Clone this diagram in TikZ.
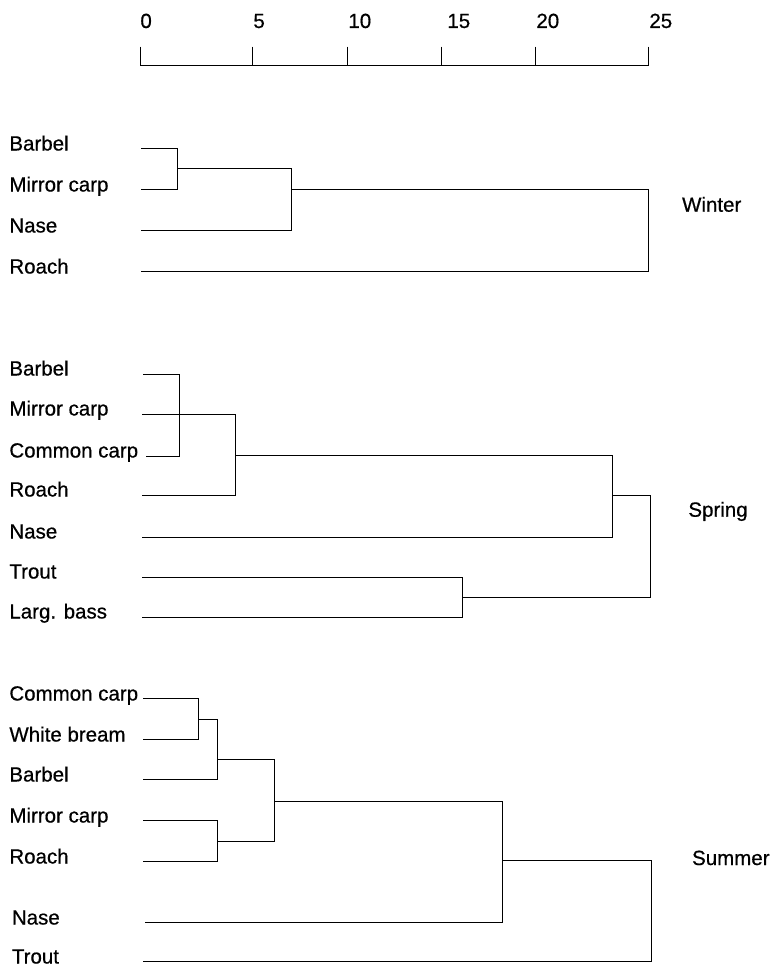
\documentclass[tikz,border=0pt]{standalone}
\usepackage{fontspec}
\setmainfont{Liberation Sans}[FakeBold=0.6]
\tikzset{lbl/.style={anchor=base west,inner sep=0pt,font=\fontsize{20.5}{25}\selectfont}}
\begin{document}
\begin{tikzpicture}[x=1pt,y=-1pt,line width=0.8pt,line cap=rect]
		\useasboundingbox (0,0) rectangle (771,966);
		% rescaled distance axis
		\draw (140,65.7) -- (648.7,65.7);
		\foreach \xx in {140,252.7,347.7,441,535.3,648.7} \draw (\xx,47) -- (\xx,65.7);
		\foreach \xx/\val in {140/0,253/5,348/10,447/15,536/20,649/25} \node[lbl] (d\val) at (\xx,28) {\val};
		% winter
		\foreach \name/\yy [count=\i] in {Barbel/148,Mirror carp/189,Nase/230,Roach/271} \node[lbl] (w\i) at (9,\yy+2.5) {\name};
		\draw (141,148) -| (177.3,189) -- (141,189);
		\draw (177.3,168.5) -| (291,230) -- (141,230);
		\draw (291,189) -| (648.7,271) -- (141,271);
		\node[lbl] (winter) at (681.7,211.7) {Winter};
		% spring
		\foreach \name/\yy [count=\i] in {Barbel/374,Mirror carp/414,Common carp/456,Roach/495,Nase/537,Trout/577,Larg. bass/617} \node[lbl] (s\i) at (9,\yy+1.5) {\name};
		\draw (143,374) -| (179,456) -- (146,456);
		\draw (142,414) -| (235.3,495) -- (142,495);
		\draw (235.3,455) -| (612.7,537) -- (142,537);
		\draw (142,577) -| (462,617) -- (142,617);
		\draw (612.7,495) -| (650.3,597) -- (462,597);
		\node[lbl] (spring) at (688,516.7) {Spring};
		% summer
		\foreach \name/\yy [count=\i] in {Common carp/698,White bream/739,Barbel/779,Mirror carp/820,Roach/861} \node[lbl] (u\i) at (9,\yy+2.5) {\name};
		\node[lbl] (u6) at (11.5,924.5) {Nase};
		\node[lbl] (u7) at (11.5,963.5) {Trout};
		\draw (143,698) -| (198.7,739) -- (143,739);
		\draw (198.7,719) -| (217.3,779) -- (143,779);
		\draw (143,820) -| (217.3,861) -- (143,861);
		\draw (217.3,759) -| (274.3,841) -- (217.3,841);
		\draw (274.3,801.7) -| (502.7,922.7) -- (145,922.7);
		\draw (502.7,860.7) -| (651.7,961.7) -- (143,961.7);
		\node[lbl] (summer) at (691.7,865) {Summer};
\end{tikzpicture}
\end{document}
